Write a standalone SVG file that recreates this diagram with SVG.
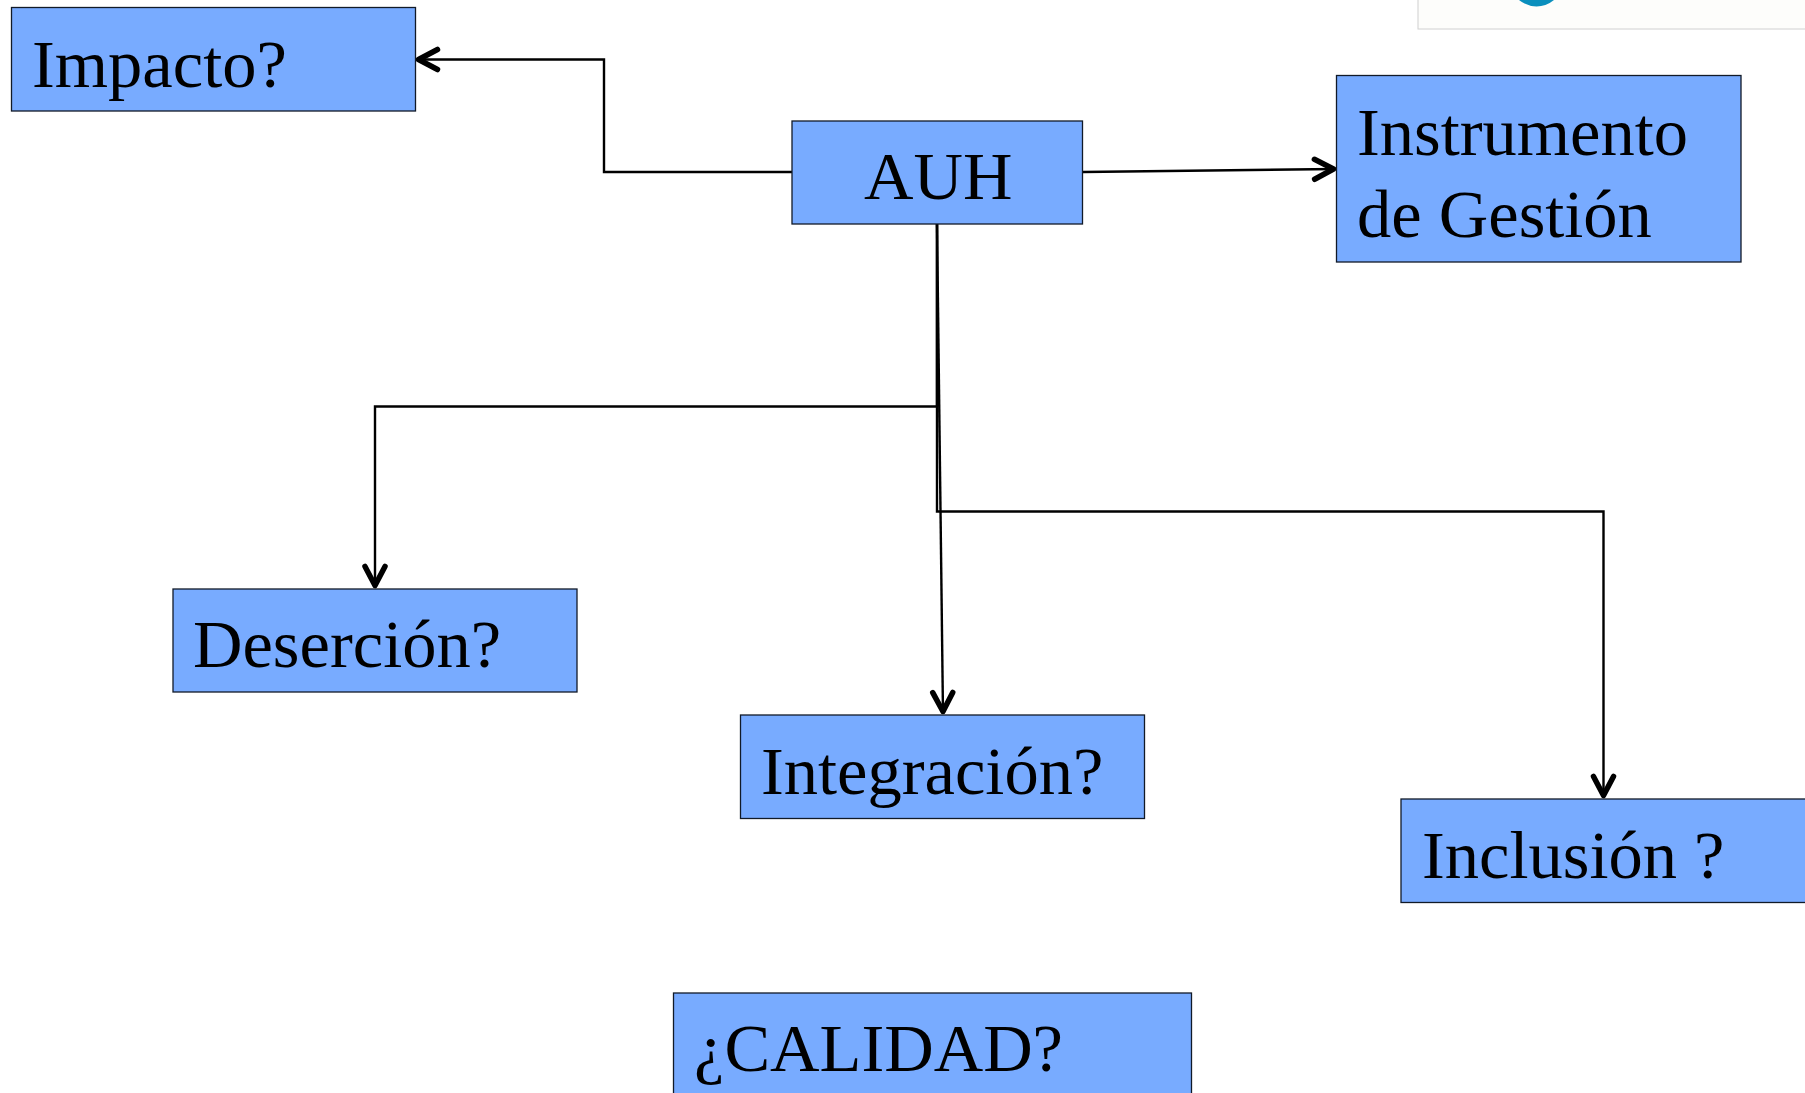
<svg xmlns="http://www.w3.org/2000/svg" width="1805" height="1093" viewBox="0 0 1805 1093">
<style>
.box{fill:#78abff;stroke:#111a28;stroke-width:1.3}
.lbl{font-family:"Liberation Serif","Times New Roman",serif;font-size:68.5px;fill:#000}
.con{fill:none;stroke:#000;stroke-width:2.4;marker-end:url(#arr)}
</style>
<defs><marker id="arr" markerUnits="userSpaceOnUse" markerWidth="30" markerHeight="30" refX="26.500" refY="12" orient="auto" overflow="visible"><path d="M5 2L24 12L5 22" fill="none" stroke="#000" stroke-width="5.500" stroke-linecap="round" stroke-linejoin="round"/></marker></defs>
<rect width="1805" height="1093" fill="#fff"/>
<g id="logo"><rect x="1418" y="-10" width="400" height="39" fill="#fdfdfb" stroke="#d0d0d0" stroke-width="1"/><path d="M1519 0H1554Q1546 6.500 1536.500 6.500Q1527 6.500 1519 0Z" fill="#0a8fbd"/></g>
<g id="connectors">
<path class="con" d="M792 172H604V59.500H416"/>
<path class="con" d="M1083 172L1336 169"/>
<path class="con" d="M937 224V406.500H375V588"/>
<path class="con" d="M937 224L943 714"/>
<path class="con" d="M937 224V511.500H1603.500V798"/>
</g>
<g id="impacto"><rect class="box" x="11.500" y="7.500" width="404" height="103.500"/><text class="lbl" x="32" y="87">Impacto?</text></g>
<g id="auh"><rect class="box" x="792" y="121" width="290.500" height="103"/><text class="lbl" x="864" y="199">AUH</text></g>
<g id="instrumento"><rect class="box" x="1336.500" y="75.500" width="404.500" height="186.500"/><text class="lbl" x="1357" y="155">Instrumento</text><text class="lbl" x="1357" y="237">de Gestión</text></g>
<g id="desercion"><rect class="box" x="173" y="589" width="404" height="103"/><text class="lbl" x="193" y="667">Deserción?</text></g>
<g id="integracion"><rect class="box" x="740.500" y="715" width="404" height="103.500"/><text class="lbl" x="761" y="794">Integración?</text></g>
<g id="inclusion"><rect class="box" x="1401" y="799" width="410" height="103.500"/><text class="lbl" x="1422" y="878">Inclusión ?</text></g>
<g id="calidad"><rect class="box" x="673.500" y="993" width="518" height="110"/><text class="lbl" x="694" y="1071">¿CALIDAD?</text></g>
</svg>
